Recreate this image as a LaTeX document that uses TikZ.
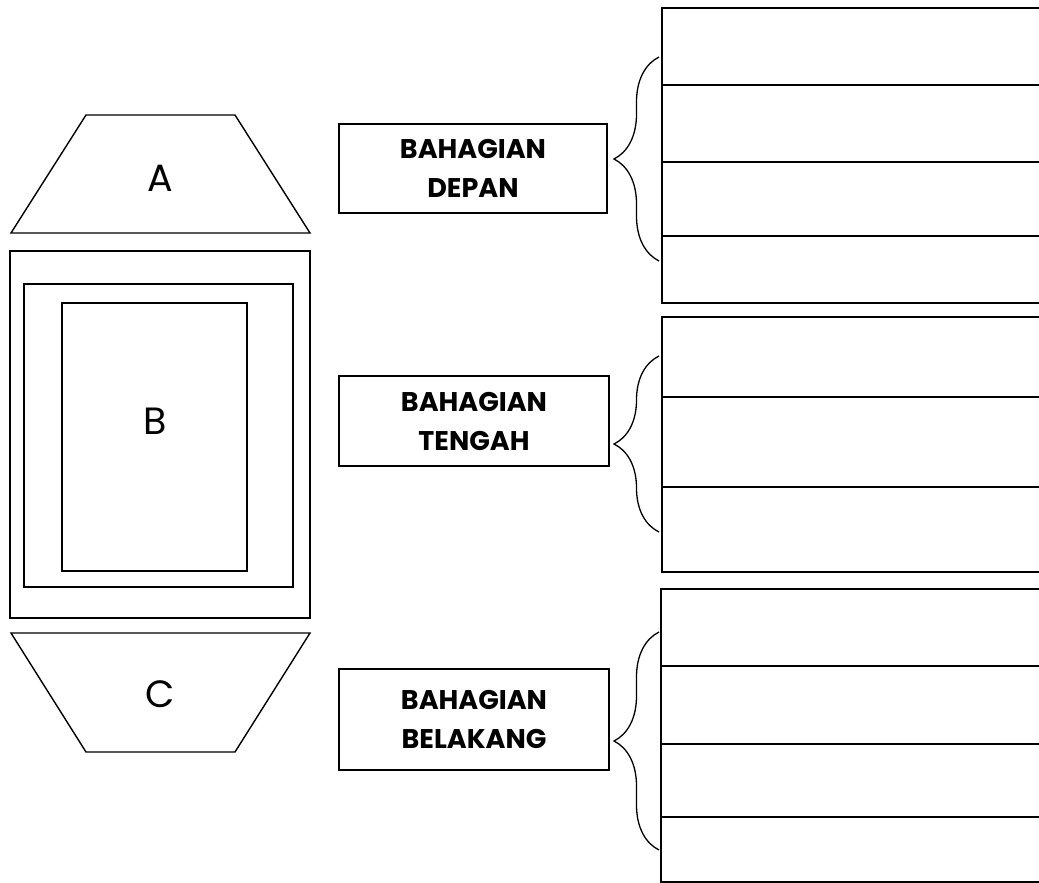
\documentclass[tikz,border=0pt]{standalone}
\usepackage{fontspec}
\setmainfont{Poppins}
\usetikzlibrary{decorations.pathreplacing}

\tikzset{
	part/.style={draw, line width=1.4pt, line join=miter},
	label/.style={font=\fontsize{38}{40}\selectfont},
	namebox/.style={draw, line width=1.4pt, align=center, inner sep=0pt,
		font=\fontsize{27}{39}\selectfont\bfseries},
	panel/.style={draw, line width=1.2pt},
	bracket/.style={draw, line width=1.3pt,
		decorate, decoration={brace, amplitude=45pt}}
}

\begin{document}
\begin{tikzpicture}[x=1pt, y=-1pt]
				\useasboundingbox (0,0) rectangle (1039,883);

				%\draw[help lines] (0,0) grid[step=100] (1039,883);

				% kepala
				\draw [part] (86,115) -- (235,115) -- (310,233) -- (11,233) -- cycle;
				\node [label] (a) at (160,178) {A};

				% badan
				\draw [part, line width=1.8pt] (10,251) rectangle (310,618);
				\draw [part] (24,284) rectangle (293,587);
				\draw [part] (62,303) rectangle (247,571);
				\node [label] (b) at (155,421) {B};

				% ekor
				\draw [part] (11,633) -- (310,633) -- (235,752) -- (86,752) -- cycle;
				\node [label] (c) at (160,694) {C};

				% kotak nama
				\node [namebox, minimum width=268pt, minimum height=89pt]
					(depan) at (473,168.5) {BAHAGIAN\\DEPAN};
				\node [namebox, minimum width=270pt, minimum height=90pt]
					(tengah) at (474,421) {BAHAGIAN\\TENGAH};
				\node [namebox, minimum width=270pt, minimum height=101pt]
					(belakang) at (474,719.5) {BAHAGIAN\\BELAKANG};

				% ruang jawapan
				\draw [panel] (1039,8) -- (662,8) -- (662,303) -- (1039,303);
				\foreach \y in {85,162,236}
					\draw [panel] (662,\y) -- (1039,\y);

				\draw [panel] (1039,317) -- (662,317) -- (662,572) -- (1039,572);
				\foreach \y in {397,487}
					\draw [panel] (662,\y) -- (1039,\y);

				\draw [panel] (1039,589) -- (661,589) -- (661,883);
				\draw [panel] (661,882) -- (1039,882);
				\foreach \y in {666,744,817}
					\draw [panel] (661,\y) -- (1039,\y);

				% kurungan
				\draw [bracket] (659,261) -- (659,57);
				\draw [bracket] (659,532) -- (659,356);
				\draw [bracket] (659,850) -- (659,632);

			\end{tikzpicture}
\end{document}
